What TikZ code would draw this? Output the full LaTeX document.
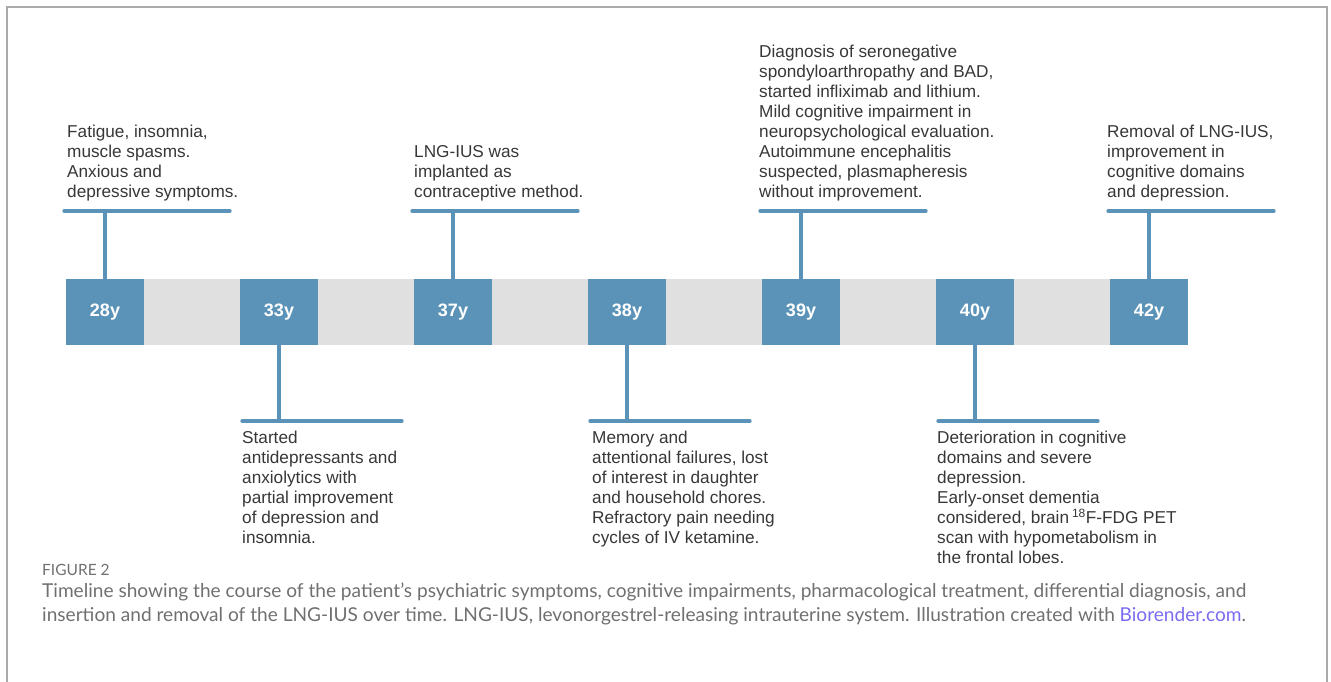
\documentclass[tikz,border=0pt]{standalone}
\usepackage{fontspec}
\setmainfont{Liberation Sans}
\newfontfamily\capfont{Lato}
\usepackage{tikz}

\definecolor{yearblue}{RGB}{91,147,184}
\definecolor{bandgray}{RGB}{225,224,225}
\definecolor{notegray}{RGB}{55,55,55}
\definecolor{capgray}{RGB}{112,112,114}
\definecolor{framegray}{RGB}{170,170,170}
\definecolor{linkviolet}{RGB}{122,108,240}

\tikzset{
  year/.style={fill=yearblue, minimum width=78, minimum height=66, inner sep=0,
    text=white, font=\fontsize{18}{20}\selectfont\bfseries},
  stem/.style={draw=yearblue, line width=3.2pt, line cap=round},
  note/.style={inner sep=0, align=left, text=notegray,
    font=\fontsize{17.2}{20}\selectfont},
  captext/.style={inner sep=0, align=left, text=capgray,
    font=\capfont\fontsize{19.1}{24}\selectfont}
}

\begin{document}
\begin{tikzpicture}[x=1pt, y=-1pt]
  \useasboundingbox (0,0) rectangle (1331,682);
  % frame
  \draw[framegray, line width=1.3pt] (7,682) -- (7,7) -- (1327,7) -- (1327,682);

  % timeline band and year boxes
  \fill[bandgray] (66,279) rectangle (1188,345);
  \foreach \n/\x in {28/105, 33/279, 37/453, 38/627, 39/801, 40/975, 42/1149}
    \node[year] (y\n) at (\x,312) {\n y};

  % callouts above the band
  \foreach \n/\x in {28/105, 37/453, 39/801, 42/1149} {
    \coordinate (t\n) at (\x,211);
    \coordinate (t\n l) at (\x-41,211);
    \coordinate (t\n r) at (\x+125,211);
    \draw[stem] (y\n.north) -- (t\n);
    \draw[stem] (t\n l) -- (t\n r);
  }
  % callouts below the band
  \foreach \n/\x in {33/279, 38/627, 40/975} {
    \coordinate (b\n) at (\x,421);
    \coordinate (b\n l) at (\x-37,421);
    \coordinate (b\n r) at (\x+123,421);
    \draw[stem] (y\n.south) -- (b\n);
    \draw[stem] (b\n l) -- (b\n r);
  }

  % texts above
  \node[note, anchor=south west] (n28) at (67,201)
    {Fatigue, insomnia,\\muscle spasms.\\Anxious and\\depressive symptoms.};
  \node[note, anchor=south west] (n37) at (414,201)
    {LNG-IUS was\\implanted as\\contraceptive method.};
  \node[note, anchor=south west] (n39) at (759,201)
    {Diagnosis of seronegative\\spondyloarthropathy and BAD,\\started infliximab and lithium.\\Mild cognitive impairment in\\neuropsychological evaluation.\\Autoimmune encephalitis\\suspected, plasmapheresis\\without improvement.};
  \node[note, anchor=south west] (n42) at (1107,201)
    {Removal of LNG-IUS,\\improvement in\\cognitive domains\\and depression.};

  % texts below
  \node[note, anchor=north west] (n33) at (242,431)
    {Started\\antidepressants and\\anxiolytics with\\partial improvement\\of depression and\\insomnia.};
  \node[note, anchor=north west] (n38) at (592,431)
    {Memory and\\attentional failures, lost\\of interest in daughter\\and household chores.\\Refractory pain needing\\cycles of IV ketamine.};
  \node[note, anchor=north west] (n40) at (937,431)
    {Deterioration in cognitive\\domains and severe\\depression.\\Early-onset dementia\\considered, brain\,\textsuperscript{18}F-FDG PET\\scan with hypometabolism in\\the frontal lobes.};

  % caption
  \node[captext, anchor=west, font=\capfont\fontsize{15.5}{18}\selectfont] (fig) at (42,570) {FIGURE 2};
  \node[captext, anchor=north west] (cap) at (42,583)
    {Timeline showing the course of the patient’s psychiatric symptoms, cognitive impairments, pharmacological treatment, differential diagnosis, and\\insertion and removal of the LNG-IUS over time. LNG-IUS, levonorgestrel-releasing intrauterine system. Illustration created with \textcolor{linkviolet}{Biorender.com}.};
\end{tikzpicture}
\end{document}
